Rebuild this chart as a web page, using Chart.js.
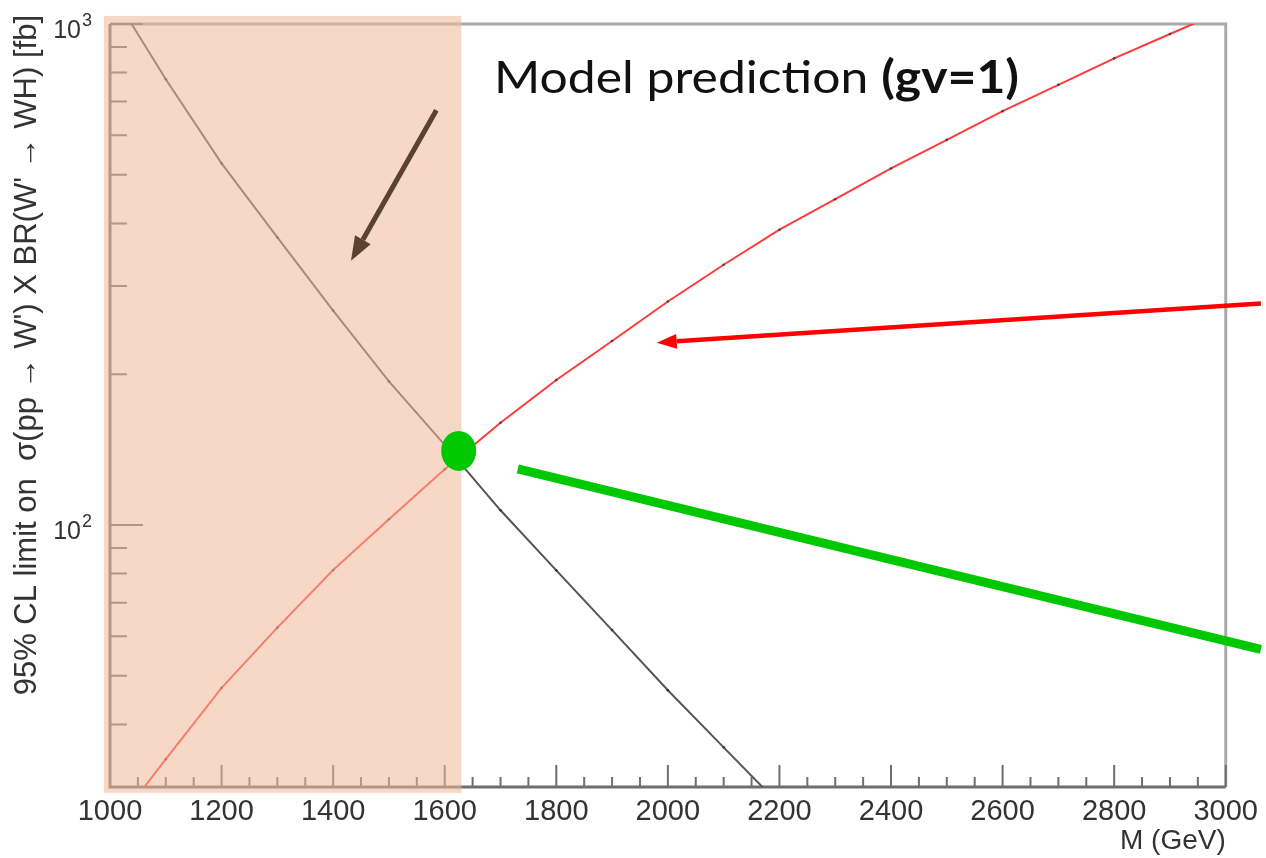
<!DOCTYPE html>
<html>
<head>
<meta charset="utf-8">
<script src="https://cdn.jsdelivr.net/npm/chart.js@4.4.1/dist/chart.umd.min.js"></script>
<style>
  html, body { margin: 0; padding: 0; background: #ffffff; }
  #wrap { width: 1266px; height: 858px; position: relative; }
</style>
</head>
<body>
<div id="wrap"><canvas id="c" width="1266" height="858"></canvas></div>
<script>
// W' mass points (GeV)
const limitMass = [1000, 1100, 1200, 1300, 1400, 1500, 1600, 1700, 1800, 1900, 2000, 2100, 2200];
// 95% CL upper limit on sigma x BR (fb)
const limitValues = [1174, 776, 527, 375, 268, 193.5, 144.5, 107, 81.2, 61.7, 46.8, 36.0, 27.7];

const modelMass = [1000, 1100, 1200, 1300, 1400, 1500, 1600, 1700, 1800, 1900, 2000,
                   2100, 2200, 2300, 2400, 2500, 2600, 2700, 2800, 2900, 3000];
// model prediction for gv = 1 (fb)
const modelValues = [24.4, 34.1, 47.3, 62.4, 81.3, 102.7, 129.2, 160, 194.8, 233, 279.3,
                     330.7, 388.5, 447, 514.8, 587, 670, 756, 854, 955, 1068];

const xTickValues = [1000, 1200, 1400, 1600, 1800, 2000, 2200, 2400, 2600, 2800, 3000];
const yMajorTicks = [100, 1000];
const yMinorTicks = [40, 50, 60, 70, 80, 90, 200, 300, 400, 500, 600, 700, 800, 900];
const yTickLabels = [{ base: '10', exp: '2', value: 100 }, { base: '10', exp: '3', value: 1000 }];

const yTitle = "95% CL limit on  \u03c3(pp \u2192 W') X BR(W' \u2192 WH) [fb]";
const headline = 'Model prediction ';
const headlineBold = '(gv=1)';

// excluded mass region and callouts, in data units (GeV, fb)
const excluded = { x0: 989, x1: 1630, y0: 29.2, y1: 1038 };
const crossing = { x: 1625, y: 140.6 };
const greenBar = { x0: 1731, y0: 129.4, x1: 3063, y1: 56.5 };
const redArrow = { x0: 3063, y0: 276.7, x1: 1980, y1: 231.2 };
const brownArrow = { x0: 1585, y0: 673, x1: 1432, y1: 337 };

const axisFont = "'Liberation Sans', Arial, sans-serif";

function arrow(ctx, x0, y0, x1, y1, color, width, headLen, headW) {
  const ang = Math.atan2(y1 - y0, x1 - x0);
  const bx = x1 - Math.cos(ang) * headLen, by = y1 - Math.sin(ang) * headLen;
  ctx.save();
  ctx.strokeStyle = color; ctx.fillStyle = color; ctx.lineWidth = width; ctx.lineCap = 'butt';
  ctx.beginPath(); ctx.moveTo(x0, y0); ctx.lineTo(bx, by); ctx.stroke();
  const nx = -Math.sin(ang), ny = Math.cos(ang);
  ctx.beginPath();
  ctx.moveTo(x1, y1);
  ctx.lineTo(bx + nx * headW / 2, by + ny * headW / 2);
  ctx.lineTo(bx - nx * headW / 2, by - ny * headW / 2);
  ctx.closePath(); ctx.fill();
  ctx.restore();
}

const framePlugin = {
  id: 'frame',
  beforeDatasetsDraw(chart) {
    const { ctx, chartArea: a, scales: { x, y } } = chart;
    ctx.save();
    // top and right frame
    ctx.strokeStyle = '#aaaaaa'; ctx.lineWidth = 3;
    ctx.beginPath();
    ctx.moveTo(a.left, a.top); ctx.lineTo(a.right, a.top); ctx.lineTo(a.right, a.bottom);
    ctx.stroke();
    // axes
    ctx.strokeStyle = '#6e6e6e'; ctx.lineWidth = 3;
    ctx.beginPath();
    ctx.moveTo(a.left, a.top); ctx.lineTo(a.left, a.bottom); ctx.lineTo(a.right, a.bottom);
    ctx.stroke();
    // inward x ticks
    ctx.lineWidth = 2;
    ctx.beginPath();
    for (let v = x.min; v <= x.max; v += 50) {
      const px = x.getPixelForValue(v);
      const len = (v % 200 === 0) ? 22 : 10;
      ctx.moveTo(px, a.bottom); ctx.lineTo(px, a.bottom - len);
    }
    // inward y ticks
    yMajorTicks.forEach(v => { const py = y.getPixelForValue(v); ctx.moveTo(a.left, py); ctx.lineTo(a.left + 33, py); });
    yMinorTicks.forEach(v => { const py = y.getPixelForValue(v); ctx.moveTo(a.left, py); ctx.lineTo(a.left + 17, py); });
    ctx.stroke();
    ctx.restore();
  },
  afterDatasetsDraw(chart) {
    const { ctx, scales: { x, y } } = chart;
    const X = v => x.getPixelForValue(v), Y = v => y.getPixelForValue(v);
    ctx.save();
    // shaded excluded region
    ctx.fillStyle = 'rgba(240, 183, 152, 0.55)';
    ctx.fillRect(X(excluded.x0), Y(excluded.y1), X(excluded.x1) - X(excluded.x0), Y(excluded.y0) - Y(excluded.y1));
    // green bar
    ctx.strokeStyle = '#00c800'; ctx.lineWidth = 9; ctx.lineCap = 'butt';
    ctx.beginPath(); ctx.moveTo(X(greenBar.x0), Y(greenBar.y0)); ctx.lineTo(X(greenBar.x1), Y(greenBar.y1)); ctx.stroke();
    // crossing marker
    ctx.fillStyle = '#00c800';
    ctx.beginPath(); ctx.ellipse(X(crossing.x), Y(crossing.y), 17.5, 20, 0, 0, Math.PI * 2); ctx.fill();
    // arrows
    arrow(ctx, X(redArrow.x0), Y(redArrow.y0), X(redArrow.x1), Y(redArrow.y1), '#ff0000', 4.5, 20, 15);
    arrow(ctx, X(brownArrow.x0), Y(brownArrow.y0), X(brownArrow.x1), Y(brownArrow.y1), '#5a4231', 5, 24, 18);
    // headline, stretched to its set width
    ctx.fillStyle = '#111111';
    ctx.textBaseline = 'alphabetic'; ctx.textAlign = 'left';
    const regFont = "45px Lato, 'Open Sans', sans-serif";
    const boldFont = "bold 45px Lato, 'Open Sans', sans-serif";
    ctx.font = regFont;
    const w1 = ctx.measureText(headline).width;
    ctx.font = boldFont;
    const w2 = ctx.measureText(headlineBold).width;
    const sx = 525 / (w1 + w2);
    ctx.translate(494, 93);
    ctx.scale(sx, 1);
    ctx.font = regFont;
    ctx.fillText(headline, 0, 0);
    ctx.font = boldFont;
    ctx.fillText(headlineBold, w1, 0);
    ctx.restore();
  },
  afterDraw(chart) {
    const { ctx, scales: { y } } = chart;
    ctx.save();
    ctx.fillStyle = '#333333';
    yTickLabels.forEach(t => {
      const py = y.getPixelForValue(t.value);
      ctx.font = '25px ' + axisFont; ctx.textAlign = 'right'; ctx.textBaseline = 'alphabetic';
      ctx.fillText(t.base, 81, py + 13.5);
      ctx.font = '18px ' + axisFont; ctx.textAlign = 'left';
      ctx.fillText(t.exp, 82, py + 2);
    });
    // rotated y-axis title, end-aligned to the top
    ctx.translate(36, 15);
    ctx.rotate(-Math.PI / 2);
    ctx.font = '31px ' + axisFont; ctx.textAlign = 'right'; ctx.textBaseline = 'alphabetic';
    ctx.fillText(yTitle, 0, 0);
    ctx.restore();
  }
};

new Chart(document.getElementById('c'), {
  type: 'line',
  data: {
    datasets: [
      {
        label: 'Observed limit',
        data: limitMass.map((m, i) => ({ x: m, y: limitValues[i] })),
        borderColor: '#555555', borderWidth: 2,
        pointRadius: 1.3, pointBackgroundColor: '#333333', pointBorderWidth: 0,
        tension: 0, fill: false
      },
      {
        label: 'Model prediction (gv=1)',
        data: modelMass.map((m, i) => ({ x: m, y: modelValues[i] })),
        borderColor: '#ff3b3b', borderWidth: 2,
        pointRadius: 1.3, pointBackgroundColor: '#444444', pointBorderWidth: 0,
        tension: 0, fill: false
      }
    ]
  },
  options: {
    responsive: false,
    animation: false,
    events: [],
    layout: { padding: { left: 110, right: 35, top: 24, bottom: 0 } },
    plugins: { legend: { display: false }, tooltip: { enabled: false } },
    scales: {
      x: {
        type: 'linear', min: 1000, max: 3000,
        grid: { display: false, drawTicks: false },
        border: { display: false },
        afterBuildTicks: s => { s.ticks = xTickValues.map(v => ({ value: v })); },
        ticks: {
          callback: v => String(v), color: '#333333', padding: 8,
          font: { family: axisFont, size: 29 }, maxRotation: 0, autoSkip: false
        },
        title: {
          display: true, text: 'M (GeV)', align: 'end', color: '#333333',
          font: { family: axisFont, size: 28 }, padding: 0
        },
        afterFit: s => { s.height = 71; }
      },
      y: {
        type: 'logarithmic', min: 30, max: 1000, display: false
      }
    }
  },
  plugins: [framePlugin]
});
</script>
</body>
</html>
